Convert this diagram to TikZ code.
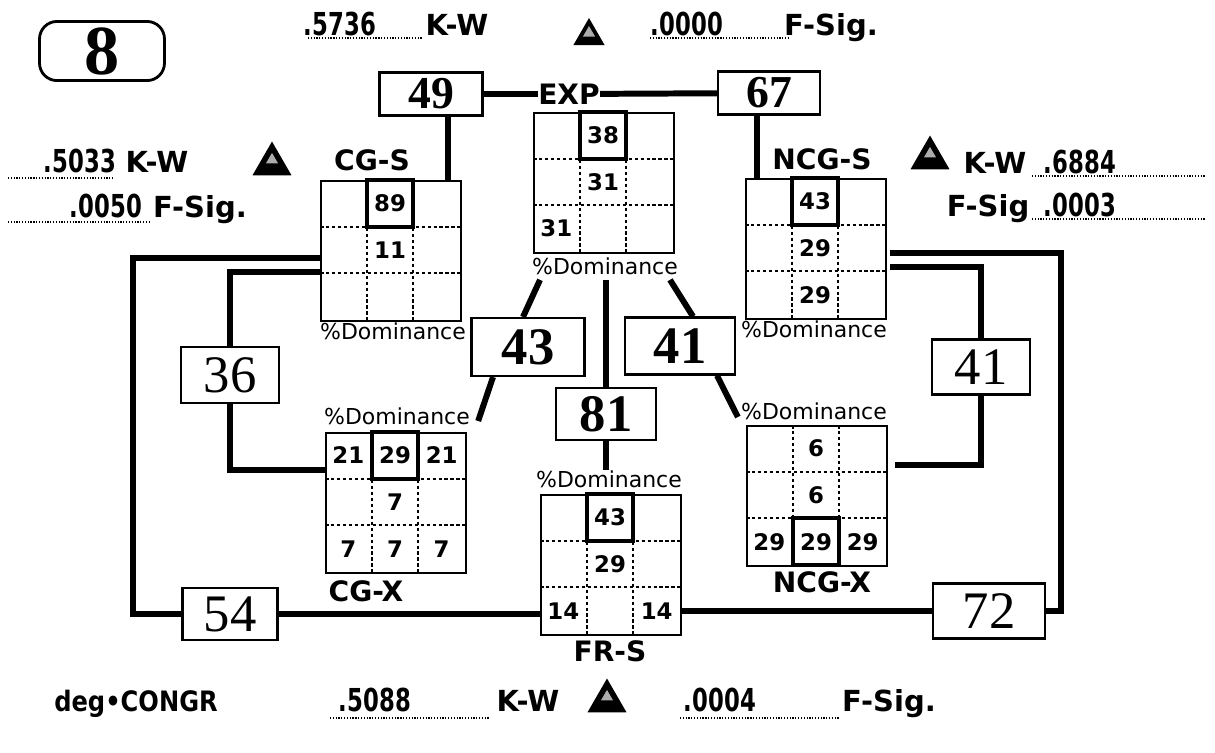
\documentclass[tikz,border=0pt]{standalone}
\usepackage{fontspec}
\setmainfont{DejaVu Sans}
\newfontfamily\serifnum{Liberation Serif}
\newfontfamily\narrownum[FakeStretch=0.72]{DejaVu Sans}
\newfontfamily\degfont[FakeStretch=0.86]{DejaVu Sans}
\usetikzlibrary{calc, shapes.geometric}

% 3x3 dominance grid: name, top-left corner, bold column, bold row, entries
\newcommand{\domgrid}[5]{%
  \node[gridframe, anchor=north west] (#1) at (#2) {};
  \begin{scope}[shift={(#2)}]
    \foreach \k in {1,2} {
      \draw[gridsep] (\k*46.67,0) -- (\k*46.67,140);
      \draw[gridsep] (0,\k*46.67) -- (140,\k*46.67);
    }
    \draw[boldcell] ({(#3-1)*46.67},{(#4-1)*46.67}) rectangle +(46.67,46.67);
    \foreach \cx/\ry/\val in {#5}
      \node[cellnum] at ({(\cx-0.5)*46.67},{(\ry-0.5)*46.67}) {\val};
  \end{scope}
}

\begin{document}
\begin{tikzpicture}[
    x=0.02cm, y=-0.02cm,
    numbox/.style={draw, line width=1.2pt, fill=white, inner sep=0pt,
                   minimum width=2cm, minimum height=1.1cm,
                   font=\serifnum\fontsize{30}{30}\selectfont},
    heavybox/.style={numbox, font=\serifnum\bfseries\fontsize{30}{30}\selectfont},
    link/.style={line width=3.4pt},
    gridframe/.style={draw, line width=1.2pt, minimum size=2.8cm, inner sep=0pt},
    gridsep/.style={line width=1pt, dash pattern=on 2pt off 1.4pt},
    boldcell/.style={line width=2.4pt},
    cellnum/.style={font=\bfseries\fontsize{13}{13}\selectfont},
    pct/.style={inner sep=0pt, font=\fontsize{12.5}{12.5}\selectfont},
    lab/.style={inner sep=0pt, font=\bfseries\fontsize{16}{16}\selectfont},
    stat/.style={anchor=base, inner sep=0pt, font=\bfseries\fontsize{16.5}{16.5}\selectfont},
    val/.style={anchor=base, inner sep=0pt, font=\narrownum\bfseries\fontsize{18}{18}\selectfont},
    dotline/.style={line width=0.7pt, dash pattern=on 0.7pt off 0.9pt},
    tri/.style={regular polygon, regular polygon sides=3, fill=black, inner sep=0pt,
                minimum size=0.9cm,
                path picture={\node[regular polygon, regular polygon sides=3, fill=gray!65,
                  inner sep=0pt, minimum size=0.28cm] at ([yshift=-0.03cm]path picture bounding box.center) {};}}
  ]
    \useasboundingbox (0,0) rectangle (1215,752);

    \node[draw, line width=1.6pt, rounded corners=0.35cm, minimum width=2.5cm, minimum height=1.16cm,
          font=\serifnum\bfseries\fontsize{40}{40}\selectfont] (fig) at (102,51) {8};

    % statistics rows
    \draw[dotline] (308,38) -- (422,38);
    \node[val] (kwtop) at (340,35) {.5736};
    \node[stat] (kwtoplab) at (457,35) {K-W};
    \node[tri, minimum size=0.72cm] (tritop) at (589,36) {};
    \draw[dotline] (650,38) -- (790,38);
    \node[val] (fstop) at (687,35) {.0000};
    \node[stat] (fstoplab) at (831,35) {F-Sig.};

    \draw[dotline] (8,178) -- (114,178);
    \node[val] (kwleft) at (80,172) {.5033};
    \node[stat] (kwleftlab) at (157,172) {K-W};
    \node[tri] (trileft) at (272,164) {};
    \draw[dotline] (8,222) -- (150,222);
    \node[val] (fsleft) at (106,217) {.0050};
    \node[stat] (fsleftlab) at (200,217) {F-Sig.};

    \node[tri] (triright) at (930,158) {};
    \node[stat] (kwrightlab) at (995,173) {K-W};
    \draw[dotline] (1032,176) -- (1205,176);
    \node[val] (kwright) at (1080,173) {.6884};
    \node[stat] (fsrightlab) at (988,216) {F-Sig};
    \draw[dotline] (1032,219) -- (1205,219);
    \node[val] (fsright) at (1080,216) {.0003};

    \node[stat, font=\degfont\bfseries\fontsize{16}{16}\selectfont] (deg) at (136,711) {deg•CONGR};
    \draw[dotline] (330,718) -- (490,718);
    \node[val] (kwbot) at (375,711) {.5088};
    \node[stat] (kwbotlab) at (528,711) {K-W};
    \node[tri] (tribot) at (607,701) {};
    \draw[dotline] (680,718) -- (840,718);
    \node[val] (fsbot) at (720,711) {.0004};
    \node[stat] (fsbotlab) at (889,711) {F-Sig.};

    % grids
    \domgrid{cgs}{320,180}{2}{1}{2/1/89, 2/2/11}
    \domgrid{exp}{533,112}{2}{1}{2/1/38, 2/2/31, 1/3/31}
    \domgrid{ncgs}{745,178}{2}{1}{2/1/43, 2/2/29, 2/3/29}
    \domgrid{cgx}{325,432}{2}{1}{1/1/21, 2/1/29, 3/1/21, 2/2/7, 1/3/7, 2/3/7, 3/3/7}
    \domgrid{frs}{540,494}{2}{1}{2/1/43, 2/2/29, 1/3/14, 3/3/14}
    \domgrid{ncgx}{746,425}{2}{3}{2/1/6, 2/2/6, 1/3/29, 2/3/29, 3/3/29}

    \node[pct] (pcgs) at (393,331) {\%Dominance};
    \node[pct] (pexp) at (605,266) {\%Dominance};
    \node[pct] (pncgs) at (814,329) {\%Dominance};
    \node[pct] (pcgx) at (397,416) {\%Dominance};
    \node[pct] (pfrs) at (609,479) {\%Dominance};
    \node[pct] (pncgx) at (814,411) {\%Dominance};

    \node[lab] (lcgs) at (372,160) {CG-S};
    \node[lab] (lexp) at (569,94) {EXP};
    \node[lab] (lncgs) at (822,159) {NCG-S};
    \node[lab] (lcgx) at (366,591) {CG-X};
    \node[lab] (lfrs) at (610,651) {FR-S};
    \node[lab] (lncgx) at (822,582) {NCG-X};

    % number boxes
    \node[heavybox, minimum width=2.06cm, minimum height=0.86cm,
          font=\serifnum\bfseries\fontsize{26}{26}\selectfont] (b49) at (431,94) {49};
    \node[heavybox, minimum width=2.04cm, minimum height=0.86cm,
          font=\serifnum\bfseries\fontsize{26}{26}\selectfont] (b67) at (769,93) {67};
    \node[numbox, minimum width=1.96cm, minimum height=1.12cm] (b36) at (230,375) {36};
    \node[heavybox, minimum width=2.26cm, minimum height=1.16cm] (b43) at (528,347) {43};
    \node[heavybox, minimum width=2.2cm, minimum height=1.14cm] (b41m) at (680,346) {41};
    \node[heavybox, minimum width=2cm, minimum height=1.04cm] (b81) at (606,414) {81};
    \node[numbox, minimum width=1.96cm, minimum height=1.1cm] (b41r) at (981,367) {41};
    \node[numbox, minimum width=1.9cm, minimum height=1.04cm] (b54) at (230,614) {54};
    \node[numbox, minimum width=2.24cm, minimum height=1.1cm] (b72) at (989,611) {72};

    % connectors
    \draw[link] (b49) -- (lexp);
    \draw[link] (lexp) -- (b67);
    \draw[link] ([xshift=0.34cm]b49.south) -- ([xshift=0.34cm]b49.south |- cgs.north);
    \draw[link] ([xshift=-0.24cm]b67.south) -- ([xshift=-0.24cm]b67.south |- ncgs.north);

    \draw[link] ([yshift=-1.56cm]cgs.north west) -| ([xshift=-0.96cm]b54.west) -- (b54.west);
    \draw[link] ([yshift=-1.84cm]cgs.north west) -| (b36.north);
    \draw[link] (b36.south) |- ([yshift=-0.76cm]cgx.north west);
    \draw[link] (b54.east) -- (b54.east -| frs.west);
    \draw[link] (frs.east |- b72.west) -- (b72.west);

    \draw[link] ([xshift=0.06cm, yshift=-1.5cm]ncgs.north east) -| ([xshift=0.3cm]b72.east) -- (b72.east);
    \draw[link] ([xshift=0.06cm, yshift=-1.78cm]ncgs.north east) -| (b41r.north);
    \draw[link] (b41r.south) |- ([xshift=0.14cm, yshift=-0.8cm]ncgx.north east);

    \draw[link] ([xshift=-1.3cm, yshift=-0.1cm]pexp.south) -- ([xshift=-0.1cm]b43.north);
    \draw[link] ([xshift=-0.7cm]b43.south) -- ([xshift=0.16cm, yshift=-0.1cm]pcgx.east);
    \draw[link] ([yshift=-0.1cm]b81.north |- pexp.south) -- (b81.north);
    \draw[link] (b81.south) -- (b81.south |- pfrs.north);
    \draw[link] ([xshift=1.3cm, yshift=-0.1cm]pexp.south) -- ([xshift=0.26cm]b41m.north);
    \draw[link] ([xshift=0.74cm]b41m.south) -- ([xshift=-0.06cm, yshift=-0.12cm]pncgx.west);
\end{tikzpicture}
\end{document}
